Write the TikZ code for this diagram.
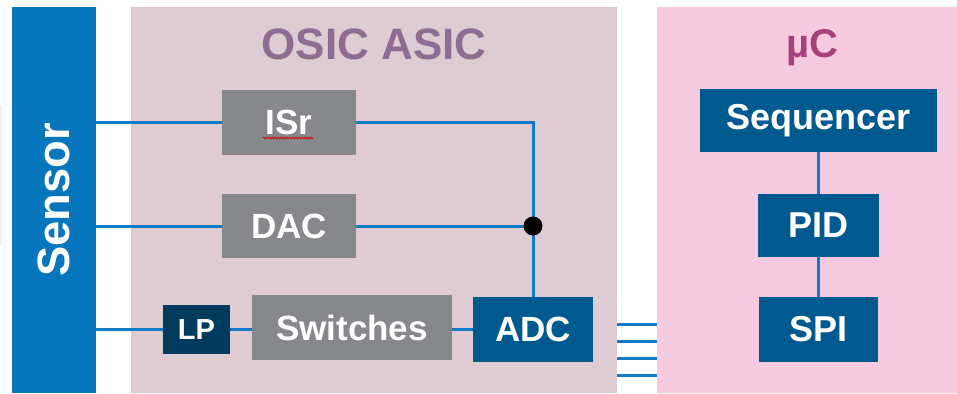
\documentclass[tikz,border=0pt]{standalone}
\usepackage{fontspec}
\setmainfont{Liberation Sans}
\usetikzlibrary{decorations.pathmorphing}

\definecolor{sensorblue}{RGB}{8,118,189}
\definecolor{wireblue}{RGB}{20,122,196}
\definecolor{asicfill}{RGB}{223,203,210}
\definecolor{ucfill}{RGB}{246,203,224}
\definecolor{boxgray}{RGB}{135,136,140}
\definecolor{adcblue}{RGB}{0,90,143}
\definecolor{lpnavy}{RGB}{0,58,93}
\definecolor{asictitle}{RGB}{143,109,147}
\definecolor{uctitle}{RGB}{168,64,122}

\begin{document}
\begin{tikzpicture}
[x=0.75pt, y=-0.75pt,
 region/.style={inner sep=0pt, minimum height=289.5pt},
 block/.style={inner sep=0pt, text=white,
   font=\bfseries\fontsize{26.25pt}{30pt}\selectfont},
 graybox/.style={block, fill=boxgray},
 bluebox/.style={block, fill=adcblue},
 wire/.style={draw=wireblue, line width=2.25pt}]
\useasboundingbox (0,0) rectangle (957,393);
%% the three regions
\draw[black!6, line width=1.5pt] (1,105) -- (1,245);
\node[region, fill=sensorblue, minimum width=63pt, text=white,
  font=\bfseries\fontsize{34pt}{38pt}\selectfont] (sensor) at (54,200)
  {\rotatebox{90}{Sensor}};
\node[region, fill=asicfill, minimum width=364.5pt] (asic) at (374,200) {};
\node[region, fill=ucfill, minimum width=225pt] (uc) at (807,200) {};
\node[anchor=base, text=asictitle,
  font=\bfseries\fontsize{33pt}{38pt}\selectfont] (asicname) at (374,59) {OSIC ASIC};
\node[anchor=base, text=uctitle,
  font=\bfseries\fontsize{30pt}{34pt}\selectfont] (ucname) at (812,57) {µC};
%% ASIC blocks
\node[graybox, minimum width=100.5pt, minimum height=48.75pt] (isr) at (289,122.5) {ISr};
\node[graybox, minimum width=100.5pt, minimum height=48pt] (dac) at (289,226) {DAC};
\node[block, fill=lpnavy, minimum width=50.25pt, minimum height=36.75pt,
  font=\bfseries\fontsize{21.75pt}{25pt}\selectfont] (lp) at (196.5,329.5) {LP};
\node[graybox, minimum width=150pt, minimum height=48.75pt] (switches) at (352,327.5) {Switches};
\node[bluebox, minimum width=90pt, minimum height=48.75pt] (adc) at (533,329.5) {ADC};
\draw[red!85!black, line width=0.6pt, decorate,
  decoration={zigzag, segment length=2.2pt, amplitude=0.6pt}] (263,138) -- (313,138);
%% microcontroller blocks
\tikzset{block/.append style={font=\bfseries\fontsize{27pt}{31pt}\selectfont}}
\node[bluebox, minimum width=177.75pt, minimum height=47.25pt] (seq) at (818.5,120.5) {Sequencer};
\node[bluebox, minimum width=90.75pt, minimum height=47.25pt] (pid) at (818.5,225.5) {PID};
\node[bluebox, minimum width=89.25pt, minimum height=48.75pt] (spi) at (818.5,329.5) {SPI};
%% wiring
\draw[wire] (sensor.east |- isr.west) -- (isr.west);
\draw[wire] (sensor.east |- dac.west) -- (dac.west);
\draw[wire] (sensor.east |- lp.west) -- (lp.west);
\draw[wire] (lp.east) -- (switches.west |- lp.east);
\draw[wire] (switches.east |- adc.west) -- (adc.west);
\draw[wire] (isr.east) -- (adc.north |- isr.east) -- (adc.north);
\draw[wire] (dac.east) -- (adc.north |- dac.east) coordinate (junction);
\fill (junction) circle[radius=7.1pt];
\foreach \y in {324,341,358,375}
  \draw[wire] (asic.east |- 0,\y) -- (uc.west |- 0,\y);
\draw[wire] (seq.south) -- (pid.north);
\draw[wire] (pid.south) -- (spi.north);
\end{tikzpicture}
\end{document}
